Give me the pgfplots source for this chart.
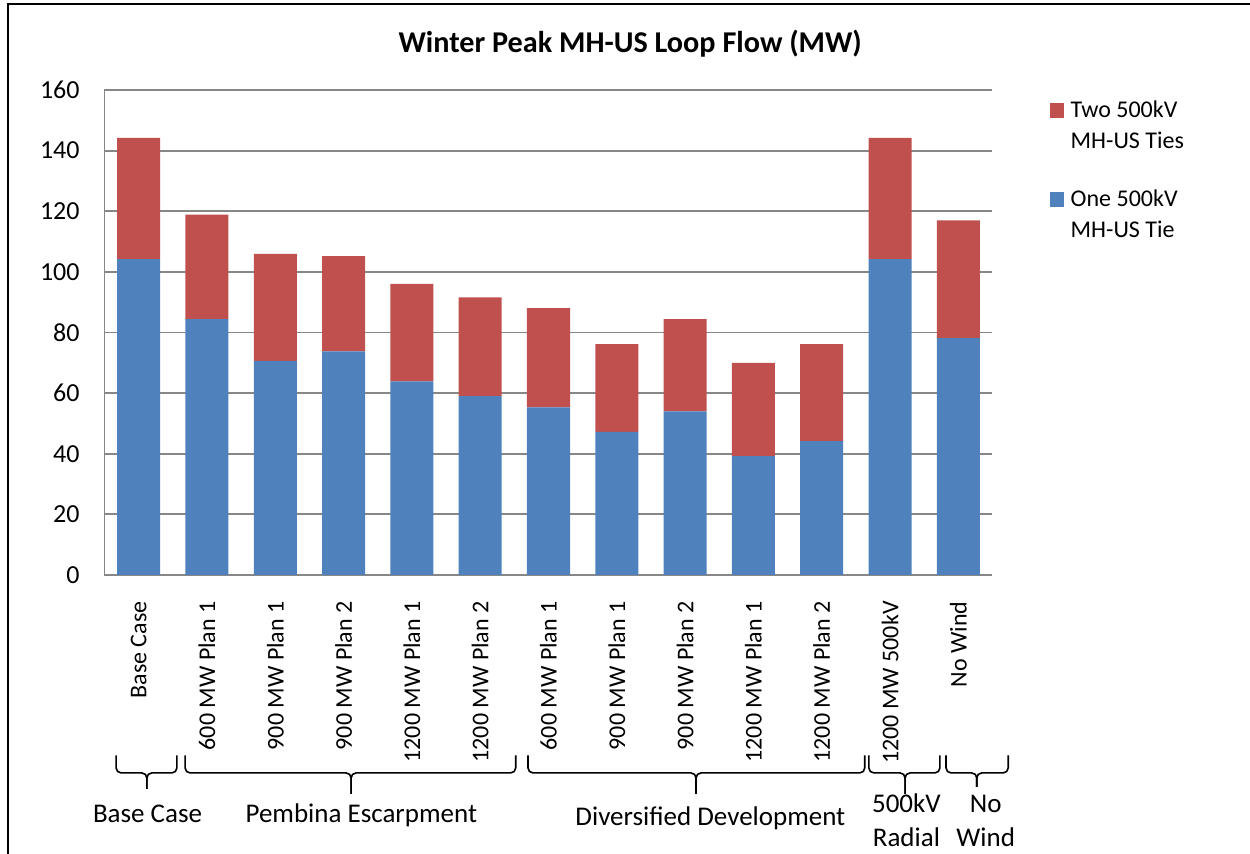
\documentclass[border=0pt]{standalone}
\usepackage{fontspec}
\setmainfont{Carlito}
\usepackage{pgfplots}
\pgfplotsset{compat=1.18}
\definecolor{barblue}{HTML}{4F81BD}
\definecolor{barred}{HTML}{C0504D}
\definecolor{gridgray}{HTML}{878787}
\newcommand{\grpbrace}[4]{%
  \draw[line width=0.8pt, rounded corners=2.5pt] (axis cs:#1,-59.5) -- (axis cs:#1,-65.3) -- (axis cs:#3,-65.3) -- (axis cs:#3,#4);
  \draw[line width=0.8pt, rounded corners=2.5pt] (axis cs:#2,-59.5) -- (axis cs:#2,-65.3) -- (axis cs:#3,-65.3) -- (axis cs:#3,#4);
}
\begin{document}
\begin{tikzpicture}
\useasboundingbox (-52.25pt,-139.5pt) rectangle (572.75pt,287.5pt);
\draw[line width=1.2pt] (-48.25pt,-150pt) -- (-48.25pt,285.5pt) -- (590pt,285.5pt);
\begin{axis}[
  at={(0pt,0pt)}, anchor=south west,
  scale only axis, width=444pt, height=242.5pt,
  ybar stacked, bar width=0.63,
  xmin=-0.5, xmax=12.5, ymin=0, ymax=160,
  ytick={0,20,...,160},
  xtick={0,...,12},
  xticklabels={Base Case,600 MW Plan 1,900 MW Plan 1,900 MW Plan 2,1200 MW Plan 1,1200 MW Plan 2,600 MW Plan 1,900 MW Plan 1,900 MW Plan 2,1200 MW Plan 1,1200 MW Plan 2,1200 MW 500kV,No Wind},
  axis x line*=bottom, axis y line*=left,
  axis line style={gridgray, line width=0.9pt},
  ymajorgrids, grid style={gridgray, line width=0.9pt},
  major tick length=0pt,
  /pgf/number format/assume math mode=true,
  tick label style={font=\fontsize{12}{14}\selectfont},
  yticklabel style={font=\fontsize{13}{15}\selectfont},
  xticklabel style={rotate=90, anchor=east, inner sep=0pt},
  yticklabel style={inner sep=0pt},
  xticklabel shift=13pt, yticklabel shift=12.25pt,
  clip=false,
  title={Winter Peak MH-US Loop Flow (MW)},
  title style={at={(0.592,1.053)}, anchor=base, font=\bfseries\fontsize{15.1}{18}\selectfont},
  reverse legend,
  legend cell align=left,
  legend image code/.code={\fill[#1] (0pt,-0.5pt) rectangle (7pt,7pt);},
  legend style={at={(1.064,0.989)}, anchor=north west, draw=none, fill=none, inner sep=0pt,
    row sep=32.1pt, column sep=3.5pt, cells={anchor=base west}, nodes={inner sep=0pt},
    font=\fontsize{12}{15.5}\selectfont},
]
\addplot[fill=barblue, draw=none] coordinates {
  (0,104.2) (1,84.4) (2,70.6) (3,73.8) (4,63.9) (5,59.0) (6,55.3)
  (7,47.2) (8,54.0) (9,39.2) (10,44.2) (11,104.2) (12,78.1)};
\addlegendentry{\begin{tabular}[t]{@{}l@{}}One 500kV\\MH-US Tie\end{tabular}}
\addplot[fill=barred, draw=none] coordinates {
  (0,40.0) (1,34.5) (2,35.3) (3,31.4) (4,32.1) (5,32.6) (6,32.7)
  (7,29.0) (8,30.4) (9,30.8) (10,32.0) (11,40.0) (12,38.9)};
\addlegendentry{\begin{tabular}[t]{@{}l@{}}Two 500kV\\MH-US Ties\end{tabular}}
\grpbrace{-0.33}{0.56}{0.12}{-70.6}
\grpbrace{0.68}{5.52}{3.11}{-72.2}
\grpbrace{5.70}{10.63}{8.16}{-72.2}
\grpbrace{10.69}{11.73}{11.22}{-72.2}
\grpbrace{11.82}{12.73}{12.27}{-69.9}
\node[anchor=base, font=\fontsize{13.5}{17}\selectfont] at (axis cs:0.13,-81.8) {Base Case};
\node[anchor=base, font=\fontsize{13.5}{17}\selectfont] at (axis cs:3.26,-81.5) {Pembina Escarpment};
\node[anchor=base, font=\fontsize{13.5}{17}\selectfont] at (axis cs:8.37,-82.5) {Diversified Development};
\node[anchor=base, font=\fontsize{13.5}{17}\selectfont] at (axis cs:11.24,-78.5) {500kV};
\node[anchor=base, font=\fontsize{13.5}{17}\selectfont] at (axis cs:11.24,-89.7) {Radial};
\node[anchor=base, font=\fontsize{13.5}{17}\selectfont] at (axis cs:12.40,-78.5) {No};
\node[anchor=base, font=\fontsize{13.5}{17}\selectfont] at (axis cs:12.40,-89.7) {Wind};
\end{axis}
\end{tikzpicture}
\end{document}
